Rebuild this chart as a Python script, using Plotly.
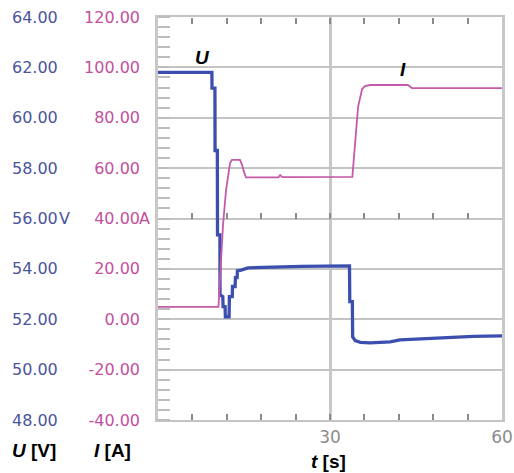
import plotly.graph_objects as go

# ---- data ----
t_u = [0, 9.4, 9.42, 9.93, 9.95, 10.35, 10.38, 10.8, 10.82, 11.3, 11.35, 11.7, 11.75, 12.4,
       12.45, 12.95, 13.0, 13.45, 13.5, 13.8, 13.85, 14.5, 15.7, 20, 25, 33.4, 33.45, 33.9,
       33.95, 34.4, 35.3, 37.0, 40.5, 42.2, 45.7, 50, 55, 60]
u_vals = [61.8, 61.8, 61.18, 61.18, 58.7, 58.7, 55.35, 55.35, 52.97, 52.9, 52.5, 52.5, 52.1, 52.1,
          52.9, 52.9, 53.3, 53.3, 53.65, 53.65, 53.92, 53.95, 54.04, 54.07, 54.1, 54.12, 52.7, 52.7,
          51.3, 51.15, 51.08, 51.06, 51.1, 51.18, 51.22, 51.26, 51.32, 51.34]

t_i = [0, 10.55, 11.34, 11.87, 12.57, 12.9, 14.3, 14.66, 15.0, 15.36, 21.0, 21.3, 21.7, 30,
       33.9, 34.9, 35.6, 36.1, 37.0, 43.6, 44.3, 60]
i_vals = [4.9, 4.9, 37.5, 51.3, 62.0, 63.3, 63.3, 61.3, 58.5, 56.3, 56.3, 57.2, 56.4, 56.5,
          56.5, 84.3, 91.4, 92.6, 93.0, 93.0, 91.8, 91.8]

u_ticks = [48, 50, 52, 54, 56, 58, 60, 62, 64]
u_ticktext = ["48.00", "50.00", "52.00", "54.00", "56.00", "58.00", "60.00", "62.00", "64.00"]
i_ticks = [-40, -20, 0, 20, 40, 60, 80, 100, 120]
i_ticktext = ["-40.00", "-20.00", "0.00", "20.00", "40.00", "60.00", "80.00", "100.00", "120.00"]
t_ticks = [0, 30, 60]
t_ticktext = ["", "30", "60"]

W, H = 514, 473
L, R, T, B = 158, 502, 17, 420

def px(x):
    return (x - L) / (R - L)

def py(y):
    return (B - y) / (B - T)

BLUE = "#3d4fae"
PINK = "#c45aa8"
UCOL = "#4a559c"
ICOL = "#c2509c"
GRID = "#c4c4c4"
TICKC = "#8a8a8a"
FONT = "DejaVu Sans"

fig = go.Figure()
fig.add_trace(go.Scatter(x=t_i, y=i_vals, mode="lines", line=dict(color=PINK, width=1.8),
                         xaxis="x2", yaxis="y2", showlegend=False, hoverinfo="skip"))
fig.add_trace(go.Scatter(x=t_u, y=u_vals, mode="lines", line=dict(color=BLUE, width=3.3),
                         xaxis="x", yaxis="y", showlegend=False, hoverinfo="skip"))
# helper trace on the top time axis (draws nothing)
fig.add_trace(go.Scatter(x=[t_u[0]], y=[u_vals[0]], mode="lines", xaxis="x3", yaxis="y",
                         showlegend=False, hoverinfo="skip", line=dict(width=0)))

fig.update_layout(
    width=W, height=H,
    margin=dict(l=L, r=W - R, t=T, b=H - B, pad=0, autoexpand=False),
    paper_bgcolor="white", plot_bgcolor="white",
    showlegend=False,
    xaxis=dict(range=[0, 60], tickmode="array", tickvals=t_ticks, ticktext=t_ticktext,
               automargin=False,
               showgrid=True, gridcolor="#c8c8c8", gridwidth=3, zeroline=False,
               showline=True, linecolor=GRID, linewidth=2, mirror=True,
               ticks="inside", ticklen=6, tickcolor=TICKC, tickwidth=2,
               tickfont=dict(family=FONT, size=17, color="#8c8c8c"),
               ticklabelstandoff=1,
               minor=dict(dtick=6, ticks="inside", ticklen=6,
                          tickcolor=TICKC, tickwidth=2, showgrid=False)),
    # time axis of the current trace, drawn along the 56 V / 40 A line
    xaxis2=dict(range=[0, 60], overlaying="x", anchor="free", position=0.5, side="bottom",
                automargin=False,
                showgrid=False, zeroline=False, showline=False,
                dtick=6, ticks="inside", ticklen=6, tickcolor=TICKC, tickwidth=2,
                showticklabels=True, tickfont=dict(size=1, color="rgba(0,0,0,0)")),
    # same time scale along the top frame
    xaxis3=dict(range=[0, 60], overlaying="x", anchor="free", position=1.0, side="top",
                automargin=False,
                showgrid=False, zeroline=False, showline=False,
                dtick=6, ticks="inside", ticklen=6, tickcolor=TICKC, tickwidth=2,
                showticklabels=True, tickfont=dict(size=1, color="rgba(0,0,0,0)")),
    yaxis=dict(range=[48, 64], tickmode="array", tickvals=u_ticks, ticktext=u_ticktext,
               automargin=False,
               showgrid=True, gridcolor=GRID, gridwidth=1.6, zeroline=False,
               showline=True, linecolor="#c8c8c8", linewidth=3, mirror=True,
               ticks="", tickfont=dict(family=FONT, size=16, color=UCOL),
               ticklabelstandoff=94,
               minor=dict(tickmode="linear", tick0=48, dtick=0.4, ticks="inside", ticklen=12,
                          tickcolor="#bdbdbd", tickwidth=1.5, showgrid=False)),
    yaxis2=dict(range=[-40, 120], overlaying="y", anchor="x", side="left",
                automargin=False,
                tickmode="array", tickvals=i_ticks, ticktext=i_ticktext,
                showgrid=False, zeroline=False, showline=False, ticks="",
                tickfont=dict(family=FONT, size=16, color=ICOL),
                ticklabelstandoff=17),
)

TF = dict(family="Liberation Sans", size=19, color="black")
ann = []
# unit suffixes on the 56 V / 40 A labels
ann.append(dict(text="V", xref="paper", yref="y", x=px(57), y=56, xanchor="left", yanchor="middle",
                showarrow=False, font=dict(family=FONT, size=16, color=UCOL)))
ann.append(dict(text="A", xref="paper", yref="y2", x=px(137), y=40, xanchor="left", yanchor="middle",
                showarrow=False, font=dict(family=FONT, size=16, color=ICOL)))
# series labels
ann.append(dict(text="<b><i>U</i></b>", xref="x", yref="y", x=7.7, y=62.4, showarrow=False,
                xanchor="center", yanchor="middle", font=TF))
ann.append(dict(text="<b><i>I</i></b>", xref="x", yref="y2", x=42.8, y=99, showarrow=False,
                xanchor="center", yanchor="middle", font=TF))
# axis titles
ann.append(dict(text="<b><i>U</i> [V]</b>", xref="paper", yref="paper", x=px(34), y=py(450),
                xanchor="center", yanchor="middle", showarrow=False, font=TF))
ann.append(dict(text="<b><i>I</i> [A]</b>", xref="paper", yref="paper", x=px(112), y=py(450),
                xanchor="center", yanchor="middle", showarrow=False, font=TF))
ann.append(dict(text="<b><i>t</i> [s]</b>", xref="paper", yref="paper", x=px(328), y=py(461),
                xanchor="center", yanchor="middle", showarrow=False, font=TF))
fig.update_layout(annotations=ann)

fig.write_html("out.html")
